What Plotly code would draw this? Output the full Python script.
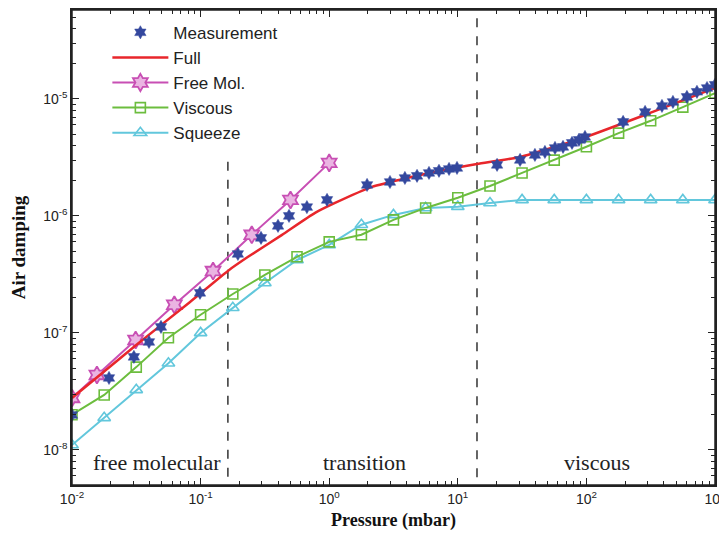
import plotly.graph_objects as go

# ---------------- data ----------------
meas_p = [0.01, 0.0194, 0.0303, 0.0397, 0.0492, 0.0989, 0.195, 0.295, 0.400, 0.487,
          0.671, 0.962, 1.97, 2.97, 3.88, 4.82, 5.97, 7.14, 8.55, 9.86,
          20.2, 30.5, 39.8, 47.6, 57.0, 65.8, 77.3, 87.5, 97.5, 193,
          286, 387, 471, 605, 724, 867, 1000]
meas_d = [1.99e-8, 4.12e-8, 6.24e-8, 8.37e-8, 1.125e-7, 2.2e-7, 4.73e-7, 6.49e-7, 8.22e-7, 1.0e-6,
          1.19e-6, 1.37e-6, 1.84e-6, 1.95e-6, 2.11e-6, 2.2e-6, 2.33e-6, 2.43e-6, 2.52e-6, 2.57e-6,
          2.73e-6, 3.01e-6, 3.32e-6, 3.52e-6, 3.81e-6, 3.89e-6, 4.21e-6, 4.47e-6, 4.73e-6, 6.36e-6,
          7.74e-6, 8.71e-6, 9.42e-6, 1.04e-5, 1.15e-5, 1.24e-5, 1.32e-5]

full_p = [0.01, 0.0309, 0.0828, 0.163, 0.234, 0.430, 0.776, 1.11, 2.15, 4.03, 7.28,
          14.1, 30.5, 94.2, 313, 1000]
full_d = [2.78e-8, 7.74e-8, 1.84e-7, 3.39e-7, 4.47e-7, 6.89e-7, 1.06e-6, 1.29e-6, 1.77e-6, 2.11e-6, 2.43e-6,
          2.78e-6, 3.19e-6, 4.64e-6, 7.59e-6, 1.24e-5]

free_p = [0.01, 0.015625, 0.03125, 0.0625, 0.125, 0.25, 0.5, 1.0]
free_d = [2.78e-8, 4.37e-8, 8.7e-8, 1.74e-7, 3.38e-7, 6.9e-7, 1.37e-6, 2.84e-6]

grid_p = [0.01, 0.0178, 0.0316, 0.0562, 0.1, 0.178, 0.316, 0.562, 1.0, 1.78, 3.16,
          5.62, 10, 17.8, 31.6, 56.2, 100, 178, 316, 562, 1000]
visc_d = [2.0e-8, 2.95e-8, 5.1e-8, 9.1e-8, 1.43e-7, 2.15e-7, 3.13e-7, 4.47e-7, 6.0e-7, 6.9e-7,
          9.25e-7, 1.17e-6, 1.43e-6, 1.8e-6, 2.33e-6, 3.0e-6, 3.9e-6, 5.1e-6, 6.5e-6, 8.5e-6, 1.12e-5]
sq_d = [1.1e-8, 1.88e-8, 3.26e-8, 5.5e-8, 1.0e-7, 1.64e-7, 2.67e-7, 4.2e-7, 5.65e-7, 8.4e-7,
        1.02e-6, 1.17e-6, 1.2e-6, 1.29e-6, 1.37e-6, 1.37e-6, 1.37e-6, 1.37e-6, 1.37e-6, 1.37e-6, 1.37e-6]

# regime boundaries (dashed lines)
bound1_p = [0.163, 0.163]
bound1_d = [2.9e-6, 5e-9]
bound2_p = [14.1, 14.1]
bound2_d = [4.9e-5, 5e-9]

region_labels = ["free molecular", "transition", "viscous"]

x_tickvals = [0.01, 0.1, 1, 10, 100, 1000]
x_ticktext = ["10<sup>-2</sup>", "10<sup>-1</sup>", "10<sup>0</sup>", "10<sup>1</sup>",
              "10<sup>2</sup>", "10<sup>3</sup>"]
y_tickvals = [1e-8, 1e-7, 1e-6, 1e-5]
y_ticktext = ["10<sup>-8</sup>", "10<sup>-7</sup>", "10<sup>-6</sup>", "10<sup>-5</sup>"]

# ---------------- colours ----------------
C_MEAS = "#34489e"
C_FULL = "#e8262b"
C_FREE = "#c84fb4"
C_FREE_FILL = "#eab4e2"
C_VISC = "#6cbd3e"
C_SQ = "#62c7dc"
C_AX = "#222222"

fig = go.Figure()

fig.add_trace(go.Scatter(x=bound1_p, y=bound1_d, mode="lines", showlegend=False,
                         line=dict(color="#333333", width=1.5, dash="dash"), hoverinfo="skip"))
fig.add_trace(go.Scatter(x=bound2_p, y=bound2_d, mode="lines", showlegend=False,
                         line=dict(color="#333333", width=1.5, dash="dash"), hoverinfo="skip"))

fig.add_trace(go.Scatter(x=grid_p, y=sq_d, mode="lines+markers", name="Squeeze",
                         line=dict(color=C_SQ, width=2),
                         marker=dict(symbol="triangle-up-open", size=11, color=C_SQ,
                                     line=dict(width=1.6, color=C_SQ))))
fig.add_trace(go.Scatter(x=grid_p, y=visc_d, mode="lines+markers", name="Viscous",
                         line=dict(color=C_VISC, width=2),
                         marker=dict(symbol="square-open", size=10, color=C_VISC,
                                     line=dict(width=1.6, color=C_VISC))))
fig.add_trace(go.Scatter(x=free_p, y=free_d, mode="lines+markers", name="Free Mol.",
                         line=dict(color=C_FREE, width=2),
                         marker=dict(symbol="hexagram", size=13, color=C_FREE_FILL,
                                     line=dict(width=1.8, color=C_FREE))))
fig.add_trace(go.Scatter(x=full_p, y=full_d, mode="lines", name="Full",
                         line=dict(color=C_FULL, width=2.5, shape="spline", smoothing=0.5)))
fig.add_trace(go.Scatter(x=meas_p, y=meas_d, mode="markers", name="Measurement",
                         marker=dict(symbol="hexagram", size=10, color=C_MEAS,
                                     line=dict(width=0.5, color=C_MEAS))))

axis_common = dict(
    type="log", showgrid=False, zeroline=False, automargin=False,
    showline=True, linecolor=C_AX, linewidth=1.5, mirror="allticks",
    ticks="inside", ticklen=7, tickcolor=C_AX, tickwidth=1.2,
    minor=dict(ticks="inside", ticklen=4, tickcolor=C_AX, tickwidth=1, showgrid=False, dtick="D1"),
    tickfont=dict(family="Liberation Sans, Arial", size=14, color=C_AX),
    ticklabeloverflow="allow",
)

fig.update_xaxes(**axis_common, range=[-2, 3], tickvals=x_tickvals, ticktext=x_ticktext,
                 title=dict(text="<b>Pressure (mbar)</b>",
                            font=dict(family="Liberation Serif, Times New Roman", size=18, color="#111111"),
                            standoff=8))
fig.update_yaxes(**axis_common, range=[-8.30, -4.24], tickvals=y_tickvals, ticktext=y_ticktext,
                 title=dict(text="<b>Air damping</b>",
                            font=dict(family="Liberation Serif, Times New Roman", size=19, color="#111111"),
                            standoff=14))

# plot frame
fig.add_shape(type="rect", xref="paper", yref="paper", x0=0, x1=1, y0=0, y1=1,
              line=dict(color=C_AX, width=1.5), fillcolor="rgba(0,0,0,0)", layer="above")

label_x = [0.132, 0.455, 0.816]
for txt, lx in zip(region_labels, label_x):
    fig.add_annotation(text=txt, x=lx, y=0.048, xref="paper", yref="paper", showarrow=False,
                       xanchor="center", yanchor="middle",
                       font=dict(family="Liberation Serif, Times New Roman", size=22, color="#222222"))

# the page body adds an 8 px margin, so the figure is sized to fit inside it
fig.update_layout(
    width=719, height=527,
    margin=dict(l=64, r=12, t=2, b=50),
    paper_bgcolor="white", plot_bgcolor="white",
    showlegend=True,
    legend=dict(x=0.055, y=0.99, xanchor="left", yanchor="top", traceorder="reversed",
                bgcolor="rgba(0,0,0,0)", borderwidth=0, itemwidth=56,
                font=dict(family="Liberation Sans, Arial", size=17, color="#222222")),
)

fig.write_html("out.html")
